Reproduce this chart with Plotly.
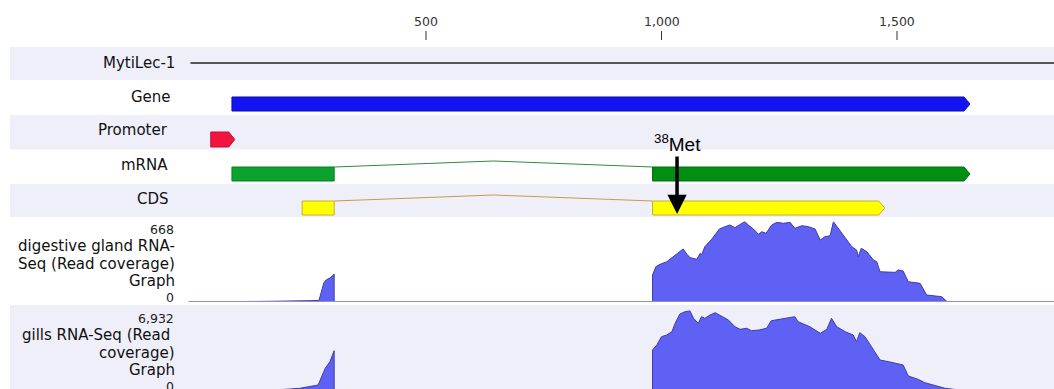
import plotly.graph_objects as go

# ---- sequence, ruler and annotated features (positions in bp) ----
sequence_name = "MytiLec-1"
sequence_length = 1850
tick_values = [500, 1000, 1500]
tick_labels = ["500", "1,000", "1,500"]

gene = (88, 1655)
promoter = (43, 94)
mrna_exons = [(88, 305), (981, 1655)]
cds_exons = [(237, 305), (981, 1474)]
met_position = 1033
met_label = "<sup>38</sup>Met"

# ---- read coverage tracks ----
dg_title = ["digestive gland RNA-", "Seq (Read coverage)", "Graph"]
dg_max = 668
dg_pos = [0, 122, 175, 271, 273, 279, 283, 288, 296, 305, 305,
          981, 981, 988, 997, 1011, 1025, 1038, 1046, 1054, 1061, 1075, 1082, 1085,
          1092, 1107, 1123, 1135, 1145, 1156, 1167, 1177, 1184, 1195, 1206, 1213,
          1222, 1234, 1245, 1259, 1273, 1283, 1298, 1312, 1326, 1337, 1347, 1358,
          1365, 1375, 1390, 1404, 1414, 1418, 1424, 1436, 1450, 1457, 1464, 1482,
          1496, 1503, 1513, 1524, 1549, 1563, 1595, 1606, 1644, 1650, 1850]
dg_cov = [0, 2, 6, 12, 17, 100, 158, 183, 199, 232, 0,
          0, 224, 293, 313, 334, 376, 412, 440, 396, 368, 354, 404, 390,
          459, 523, 606, 625, 639, 617, 645, 668, 639, 606, 562, 583,
          570, 639, 661, 653, 661, 612, 633, 625, 606, 514, 542, 550,
          666, 612, 529, 459, 432, 376, 446, 417, 349, 334, 251, 246,
          246, 266, 257, 168, 155, 58, 44, 4, 1, 0, 0]

gills_title = ["gills RNA-Seq (Read ", "coverage)", "Graph"]
gills_max = 6932
gills_pos = [0, 150, 196, 232, 271, 278, 286, 296, 305, 305,
             981, 981, 990, 1000, 1011, 1022, 1029, 1039, 1050, 1060, 1068, 1078,
             1085, 1092, 1103, 1114, 1128, 1142, 1156, 1167, 1181, 1191, 1207,
             1223, 1233, 1251, 1269, 1283, 1290, 1301, 1315, 1337, 1351, 1361,
             1372, 1390, 1407, 1414, 1421, 1432, 1446, 1464, 1482, 1496, 1513,
             1524, 1545, 1559, 1580, 1602, 1634, 1644, 1850]
gills_cov = [0, 0, 129, 232, 517, 1231, 1955, 2523, 3470, 0,
             0, 3530, 3961, 4675, 4822, 5106, 5829, 6630, 6828, 6932, 6260, 5829,
             6397, 6260, 6544, 6742, 6397, 6113, 5536, 5312, 5399, 5192, 5252,
             5399, 6053, 6173, 6346, 6397, 5967, 5769, 5536, 4968, 5312, 6260,
             5536, 5106, 4822, 4245, 5020, 4675, 3814, 2669, 2523, 2385, 2239,
             1292, 1007, 715, 456, 232, 86, 0, 0]

# ---- page geometry (pixels) ----
W, H = 1054, 389
PX_PER_BP = 0.471
ORIGIN_PX = 190.5
x_range = [-ORIGIN_PX / PX_PER_BP, (W - ORIGIN_PX) / PX_PER_BP]
TIP_BP = 6 / PX_PER_BP
GRAPH_PX = 80.5  # height of a coverage graph from 0 to its maximum

LAVENDER = "#EFEFFA"
LABEL_FONT = dict(family="DejaVu Sans", size=15, color="#111111")
SMALL_FONT = dict(family="DejaVu Sans", size=12.5, color="#222222")

fig = go.Figure()
shapes = []
annotations = []


def band(top, bottom, color):
    shapes.append(dict(type="rect", xref="paper", yref="y", x0=10 / W, x1=1,
                       y0=top, y1=bottom, fillcolor=color, line_width=0,
                       layer="below"))


def label(text, right_px, y_px, font=LABEL_FONT):
    annotations.append(dict(text=text, xref="paper", yref="y", x=right_px / W,
                            y=y_px, xanchor="right", yanchor="middle",
                            showarrow=False, font=font))


def block(start, end, top, bottom, fill, edge, arrow=False):
    if arrow:
        neck = max(start, end - TIP_BP)
        mid = (top + bottom) / 2
        path = (f"M{start},{top} L{neck},{top} L{end},{mid} "
                f"L{neck},{bottom} L{start},{bottom} Z")
    else:
        path = f"M{start},{top} L{end},{top} L{end},{bottom} L{start},{bottom} Z"
    shapes.append(dict(type="path", xref="x", yref="y", path=path,
                       fillcolor=fill, line=dict(color=edge, width=1)))


def introns(exons, top, color):
    for (_, a), (b, _) in zip(exons[:-1], exons[1:]):
        path = f"M{a},{top} L{(a + b) / 2},{top - 6} L{b},{top}"
        shapes.append(dict(type="path", xref="x", yref="y", path=path,
                           line=dict(color=color, width=1)))


# row backgrounds
band(47, 80, LAVENDER)
band(115, 149.5, LAVENDER)
band(184, 217, LAVENDER)
band(305, 389, LAVENDER)

# ruler
for v, t in zip(tick_values, tick_labels):
    annotations.append(dict(text=t, x=v, xref="x", yref="y", y=21,
                            showarrow=False, font=dict(family="DejaVu Sans",
                                                       size=12.5, color="#333333")))
    shapes.append(dict(type="line", xref="x", yref="y", x0=v, x1=v, y0=31, y1=40,
                       line=dict(color="#333333", width=1)))

# sequence line
shapes.append(dict(type="line", xref="x", yref="y", x0=0, x1=sequence_length,
                   y0=63, y1=63, line=dict(color="#222222", width=1.3)))

# features
block(gene[0], gene[1], 97, 111, "#1414F2", "#0A0AA8", arrow=True)
block(promoter[0], promoter[1], 132, 147, "#F0143F", "#C01030", arrow=True)
introns(mrna_exons, 167, "#2E8B3C")
block(mrna_exons[0][0], mrna_exons[0][1], 167, 181, "#0CA22E", "#07801F")
block(mrna_exons[1][0], mrna_exons[1][1], 167, 181, "#028E12", "#01700C", arrow=True)
introns(cds_exons, 201, "#C89A4A")
block(cds_exons[0][0], cds_exons[0][1], 201, 215, "#FFFF00", "#C8B030")
block(cds_exons[1][0], cds_exons[1][1], 201, 215, "#FFFF00", "#C8B030", arrow=True)

# track names
label(sequence_name, 177, 63)
label("Gene", 173, 97)
label("Promoter", 170, 130)
label("mRNA", 170, 165)
label("CDS", 171, 199)

# coverage graph labels
label(f"{dg_max:,}", 176, 229, SMALL_FONT)
for i, t in enumerate(dg_title):
    label(t, 177, 246 + 17.5 * i)
label("0", 176, 297.5, SMALL_FONT)
label(f"{gills_max:,}", 176, 318, SMALL_FONT)
for i, t in enumerate(gills_title):
    label(t, 177, 335 + 17.5 * i)
label("0", 176, 386, SMALL_FONT)

# baseline of the digestive gland graph
shapes.append(dict(type="line", xref="x", yref="y2", x0=-4, x1=sequence_length,
                   y0=0, y1=0, line=dict(color="#8C8CD8", width=2)))

area = dict(mode="lines", fill="tozeroy", fillcolor="#5F61F4",
            line=dict(color="#3C3CA8", width=1), hoverinfo="skip",
            showlegend=False, xaxis="x")
fig.add_trace(go.Scatter(x=dg_pos, y=dg_cov, yaxis="y2", **area))
fig.add_trace(go.Scatter(x=gills_pos, y=gills_cov, yaxis="y3", **area))

# start codon marker
annotations.append(dict(text=met_label, x=met_position, y=214, xref="x", yref="y",
                        ax=0, ay=-71, showarrow=True, arrowhead=2, arrowsize=1.1,
                        arrowwidth=3.5, arrowcolor="#000000", standoff=0,
                        font=dict(family="Liberation Sans", size=19, color="#000000")))

# the gills graph's zero line sits just below the bottom edge (2 px)
gills_per_px = gills_max / GRAPH_PX
fig.update_layout(
    width=W, height=H, margin=dict(l=0, r=0, t=0, b=0),
    paper_bgcolor="white", plot_bgcolor="rgba(0,0,0,0)",
    xaxis=dict(range=x_range, visible=False, domain=[0, 1]),
    yaxis=dict(range=[H, 0], visible=False, domain=[0, 1]),
    yaxis2=dict(range=[0, dg_max], visible=False,
                domain=[1 - 302 / H, 1 - (302 - GRAPH_PX) / H], anchor="x"),
    yaxis3=dict(range=[2 * gills_per_px, gills_max], visible=False,
                domain=[0, 1 - (391 - GRAPH_PX) / H], anchor="x"),
    shapes=shapes, annotations=annotations,
)

fig.write_html("out.html")
